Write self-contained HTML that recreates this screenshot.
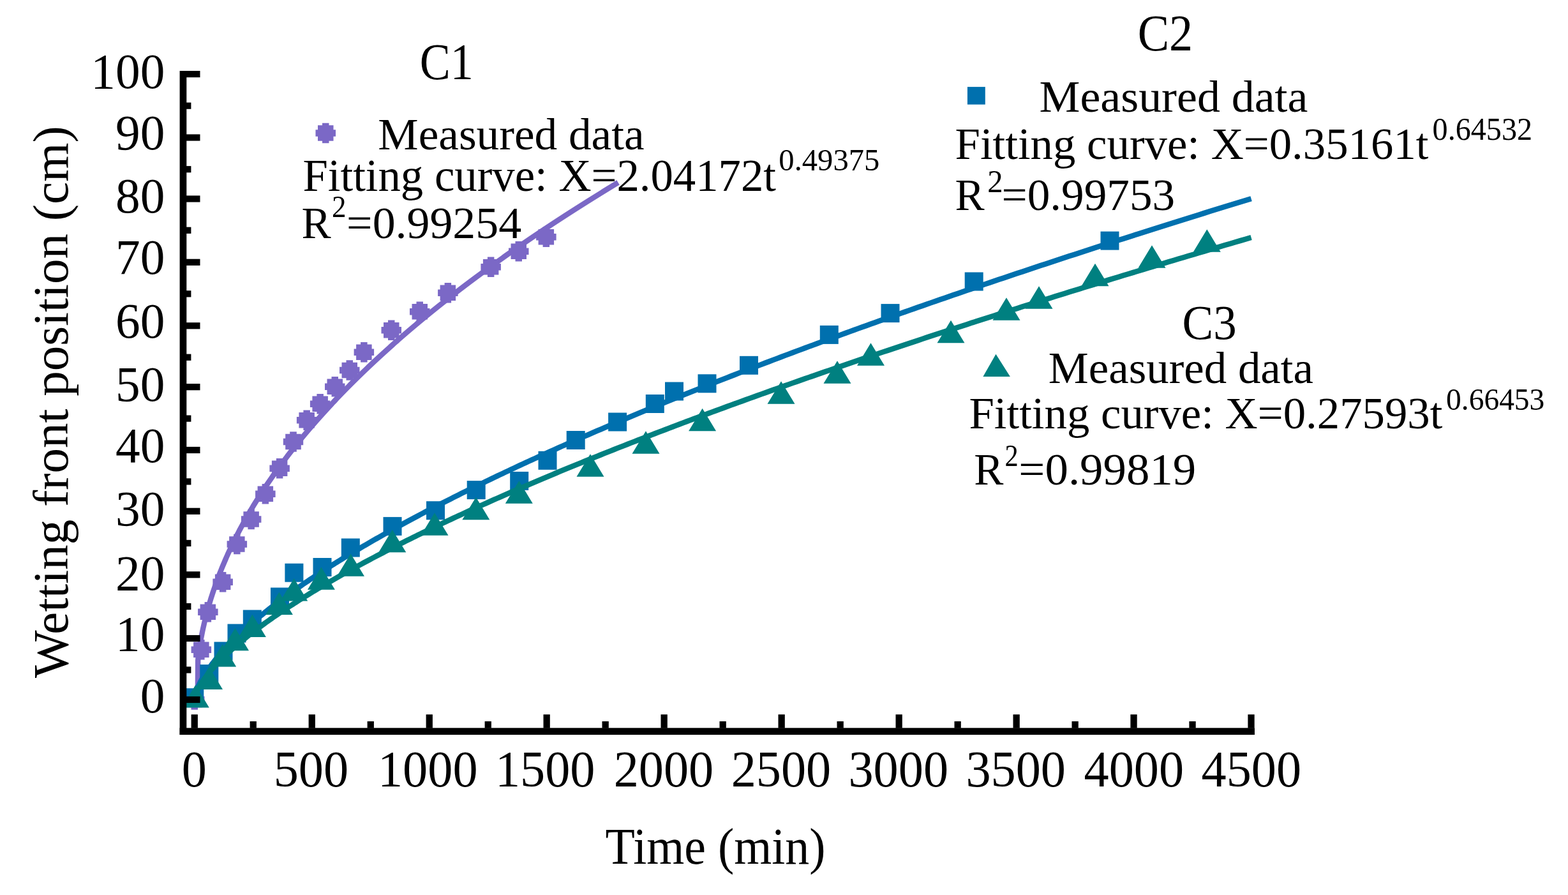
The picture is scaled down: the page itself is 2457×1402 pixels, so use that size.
<!DOCTYPE html>
<html><head><meta charset="utf-8"><title>Wetting front position vs time</title>
<style>html,body{margin:0;padding:0;background:#fff;}svg{display:block;}</style></head>
<body>
<svg width="2457" height="1402" viewBox="0 0 2457 1402"><polyline points="309.80,1094.00 310.20,1035.00 310.76,1027.05 311.32,1022.93 311.92,1018.81 312.55,1014.69 313.21,1010.57 313.90,1006.46 314.63,1002.35 315.39,998.24 316.19,994.13 317.02,990.02 317.88,985.92 318.77,981.82 319.70,977.72 320.66,973.62 321.65,969.53 322.16,967.48 322.68,965.43 323.21,963.39 323.74,961.34 324.28,959.30 324.83,957.25 325.39,955.21 325.96,953.16 326.53,951.12 327.12,949.07 327.71,947.03 328.31,944.99 328.92,942.95 329.53,940.90 330.16,938.86 330.79,936.82 331.44,934.78 332.08,932.74 332.74,930.70 333.41,928.66 334.08,926.62 334.77,924.58 335.46,922.54 336.16,920.50 336.87,918.46 337.58,916.42 338.31,914.38 339.04,912.35 339.78,910.31 340.53,908.27 341.29,906.23 342.05,904.20 342.83,902.16 343.61,900.12 344.40,898.09 345.20,896.05 346.01,894.02 346.82,891.98 347.65,889.95 348.48,887.91 349.32,885.88 350.17,883.84 351.02,881.81 351.89,879.78 352.76,877.74 353.64,875.71 354.53,873.68 355.43,871.64 356.34,869.61 357.25,867.58 358.18,865.55 359.11,863.52 360.05,861.48 361.00,859.45 361.95,857.42 362.92,855.39 363.89,853.36 364.87,851.33 365.86,849.30 366.86,847.27 367.86,845.24 368.88,843.21 369.90,841.18 370.93,839.15 371.97,837.12 373.02,835.09 374.07,833.06 375.14,831.04 376.21,829.01 377.29,826.98 378.38,824.95 379.47,822.92 380.58,820.90 381.69,818.87 382.82,816.84 383.95,814.82 385.08,812.79 386.23,810.76 387.39,808.74 388.55,806.71 389.72,804.68 390.90,802.66 392.09,800.63 393.28,798.61 394.49,796.58 395.70,794.56 396.92,792.53 398.15,790.51 399.39,788.48 400.64,786.46 401.89,784.43 403.15,782.41 404.42,780.39 405.70,778.36 406.99,776.34 408.29,774.32 409.59,772.29 410.90,770.27 412.22,768.25 413.55,766.22 414.89,764.20 416.23,762.18 417.59,760.16 418.95,758.13 420.32,756.11 421.70,754.09 423.08,752.07 424.48,750.05 425.88,748.03 427.29,746.00 428.71,743.98 430.14,741.96 431.58,739.94 433.02,737.92 434.48,735.90 435.94,733.88 437.41,731.86 438.89,729.84 440.37,727.82 441.87,725.80 443.37,723.78 444.88,721.76 446.40,719.74 447.93,717.72 449.46,715.70 451.01,713.68 452.56,711.67 454.12,709.65 455.69,707.63 457.26,705.61 458.85,703.59 460.44,701.57 462.05,699.55 463.66,697.54 465.27,695.52 466.90,693.50 468.54,691.48 470.18,689.47 471.83,687.45 473.49,685.43 475.16,683.42 476.84,681.40 478.52,679.38 480.21,677.36 481.92,675.35 483.63,673.33 485.34,671.32 487.07,669.30 488.80,667.28 490.55,665.27 492.30,663.25 494.06,661.24 495.82,659.22 497.60,657.20 499.38,655.19 501.18,653.17 502.98,651.16 504.79,649.14 506.60,647.13 508.43,645.11 510.26,643.10 512.11,641.09 513.96,639.07 515.81,637.06 517.68,635.04 519.56,633.03 521.44,631.01 523.33,629.00 525.23,626.99 527.14,624.97 529.06,622.96 530.98,620.95 532.92,618.93 534.86,616.92 536.81,614.91 538.76,612.89 540.73,610.88 542.71,608.87 544.69,606.86 546.68,604.84 548.68,602.83 550.69,600.82 552.70,598.81 554.73,596.79 556.76,594.78 558.80,592.77 560.85,590.76 562.91,588.75 564.97,586.73 567.05,584.72 569.13,582.71 571.22,580.70 573.32,578.69 575.42,576.68 577.54,574.67 579.66,572.66 581.80,570.64 583.94,568.63 586.08,566.62 588.24,564.61 590.41,562.60 592.58,560.59 594.76,558.58 596.95,556.57 599.15,554.56 601.35,552.55 603.57,550.54 605.79,548.53 608.02,546.52 610.26,544.51 612.51,542.50 614.77,540.49 617.03,538.48 619.30,536.47 621.58,534.47 623.87,532.46 626.17,530.45 628.48,528.44 630.79,526.43 633.11,524.42 635.44,522.41 637.78,520.40 640.13,518.40 642.48,516.39 644.85,514.38 647.22,512.37 649.60,510.36 651.99,508.35 654.39,506.35 656.79,504.34 659.20,502.33 661.63,500.32 664.06,498.32 666.49,496.31 668.94,494.30 671.40,492.29 673.86,490.29 676.33,488.28 678.81,486.27 681.30,484.27 683.79,482.26 686.30,480.25 688.81,478.24 691.33,476.24 693.86,474.23 696.40,472.23 698.94,470.22 701.50,468.21 704.06,466.21 706.63,464.20 709.21,462.19 711.80,460.19 714.39,458.18 717.00,456.18 719.61,454.17 722.23,452.16 724.86,450.16 727.49,448.15 730.14,446.15 732.79,444.14 735.46,442.14 738.13,440.13 740.80,438.13 743.49,436.12 746.18,434.12 748.89,432.11 751.60,430.11 754.32,428.10 757.05,426.10 759.78,424.09 762.53,422.09 765.28,420.08 768.04,418.08 770.81,416.08 773.59,414.07 776.37,412.07 779.17,410.06 781.97,408.06 784.78,406.06 787.60,404.05 790.43,402.05 793.26,400.04 796.11,398.04 798.96,396.04 801.82,394.03 804.69,392.03 807.57,390.03 810.45,388.02 813.34,386.02 816.25,384.02 819.16,382.01 822.08,380.01 825.00,378.01 827.94,376.01 830.88,374.00 833.83,372.00 836.79,370.00 839.76,367.99 842.74,365.99 845.72,363.99 848.71,361.99 851.71,359.99 854.72,357.98 857.74,355.98 860.77,353.98 863.80,351.98 866.84,349.97 869.90,347.97 872.95,345.97 876.02,343.97 879.10,341.97 882.18,339.97 885.27,337.96 888.37,335.96 891.48,333.96 894.60,331.96 897.73,329.96 900.86,327.96 904.00,325.96 907.15,323.96 910.31,321.95 913.48,319.95 916.65,317.95 919.83,315.95 923.03,313.95 926.23,311.95 929.43,309.95 932.65,307.95 935.88,305.95 939.11,303.95 942.35,301.95 945.60,299.95 948.86,297.95 952.12,295.95 955.40,293.95 958.68,291.95 961.97,289.95 965.27,287.95 968.58,285.95" fill="none" stroke="#7B68C6" stroke-width="8.4" stroke-linejoin="round"/>
<path fill="#7B68C6" d="M299.5,1080.2L310.0,1080.2L310.0,1083.8L317.0,1083.8L317.0,1090.8L320.5,1090.8L320.5,1101.2L317.0,1101.2L317.0,1108.2L310.0,1108.2L310.0,1111.8L299.5,1111.8L299.5,1108.2L292.5,1108.2L292.5,1101.2L289.0,1101.2L289.0,1090.8L292.5,1090.8L292.5,1083.8L299.5,1083.8ZM310.1,1002.0L320.6,1002.0L320.6,1005.5L327.6,1005.5L327.6,1012.5L331.1,1012.5L331.1,1023.0L327.6,1023.0L327.6,1030.0L320.6,1030.0L320.6,1033.5L310.1,1033.5L310.1,1030.0L303.1,1030.0L303.1,1023.0L299.6,1023.0L299.6,1012.5L303.1,1012.5L303.1,1005.5L310.1,1005.5ZM320.6,943.0L331.1,943.0L331.1,946.5L338.1,946.5L338.1,953.5L341.6,953.5L341.6,964.0L338.1,964.0L338.1,971.0L331.1,971.0L331.1,974.5L320.6,974.5L320.6,971.0L313.6,971.0L313.6,964.0L310.1,964.0L310.1,953.5L313.6,953.5L313.6,946.5L320.6,946.5ZM343.9,896.0L354.4,896.0L354.4,899.5L361.4,899.5L361.4,906.5L364.9,906.5L364.9,917.0L361.4,917.0L361.4,924.0L354.4,924.0L354.4,927.5L343.9,927.5L343.9,924.0L336.9,924.0L336.9,917.0L333.4,917.0L333.4,906.5L336.9,906.5L336.9,899.5L343.9,899.5ZM366.1,836.8L376.6,836.8L376.6,840.2L383.6,840.2L383.6,847.2L387.1,847.2L387.1,857.8L383.6,857.8L383.6,864.8L376.6,864.8L376.6,868.2L366.1,868.2L366.1,864.8L359.1,864.8L359.1,857.8L355.6,857.8L355.6,847.2L359.1,847.2L359.1,840.2L366.1,840.2ZM388.4,797.8L398.9,797.8L398.9,801.2L405.9,801.2L405.9,808.2L409.4,808.2L409.4,818.8L405.9,818.8L405.9,825.8L398.9,825.8L398.9,829.2L388.4,829.2L388.4,825.8L381.4,825.8L381.4,818.8L377.9,818.8L377.9,808.2L381.4,808.2L381.4,801.2L388.4,801.2ZM410.6,758.0L421.1,758.0L421.1,761.5L428.1,761.5L428.1,768.5L431.6,768.5L431.6,779.0L428.1,779.0L428.1,786.0L421.1,786.0L421.1,789.5L410.6,789.5L410.6,786.0L403.6,786.0L403.6,779.0L400.1,779.0L400.1,768.5L403.6,768.5L403.6,761.5L410.6,761.5ZM432.9,718.0L443.4,718.0L443.4,721.5L450.4,721.5L450.4,728.5L453.9,728.5L453.9,739.0L450.4,739.0L450.4,746.0L443.4,746.0L443.4,749.5L432.9,749.5L432.9,746.0L425.9,746.0L425.9,739.0L422.4,739.0L422.4,728.5L425.9,728.5L425.9,721.5L432.9,721.5ZM454.2,676.2L464.8,676.2L464.8,679.8L471.8,679.8L471.8,686.8L475.2,686.8L475.2,697.2L471.8,697.2L471.8,704.2L464.8,704.2L464.8,707.8L454.2,707.8L454.2,704.2L447.2,704.2L447.2,697.2L443.8,697.2L443.8,686.8L447.2,686.8L447.2,679.8L454.2,679.8ZM475.4,642.6L485.9,642.6L485.9,646.1L492.9,646.1L492.9,653.1L496.4,653.1L496.4,663.6L492.9,663.6L492.9,670.6L485.9,670.6L485.9,674.1L475.4,674.1L475.4,670.6L468.4,670.6L468.4,663.6L464.9,663.6L464.9,653.1L468.4,653.1L468.4,646.1L475.4,646.1ZM496.4,617.0L506.9,617.0L506.9,620.5L513.9,620.5L513.9,627.5L517.4,627.5L517.4,638.0L513.9,638.0L513.9,645.0L506.9,645.0L506.9,648.5L496.4,648.5L496.4,645.0L489.4,645.0L489.4,638.0L485.9,638.0L485.9,627.5L489.4,627.5L489.4,620.5L496.4,620.5ZM519.5,590.0L530.0,590.0L530.0,593.5L537.0,593.5L537.0,600.5L540.5,600.5L540.5,611.0L537.0,611.0L537.0,618.0L530.0,618.0L530.0,621.5L519.5,621.5L519.5,618.0L512.5,618.0L512.5,611.0L509.0,611.0L509.0,600.5L512.5,600.5L512.5,593.5L519.5,593.5ZM542.5,564.2L553.0,564.2L553.0,567.8L560.0,567.8L560.0,574.8L563.5,574.8L563.5,585.2L560.0,585.2L560.0,592.2L553.0,592.2L553.0,595.8L542.5,595.8L542.5,592.2L535.5,592.2L535.5,585.2L532.0,585.2L532.0,574.8L535.5,574.8L535.5,567.8L542.5,567.8ZM565.1,536.0L575.6,536.0L575.6,539.5L582.6,539.5L582.6,546.5L586.1,546.5L586.1,557.0L582.6,557.0L582.6,564.0L575.6,564.0L575.6,567.5L565.1,567.5L565.1,564.0L558.1,564.0L558.1,557.0L554.6,557.0L554.6,546.5L558.1,546.5L558.1,539.5L565.1,539.5ZM608.0,501.4L618.5,501.4L618.5,504.9L625.5,504.9L625.5,511.9L629.0,511.9L629.0,522.4L625.5,522.4L625.5,529.4L618.5,529.4L618.5,532.9L608.0,532.9L608.0,529.4L601.0,529.4L601.0,522.4L597.5,522.4L597.5,511.9L601.0,511.9L601.0,504.9L608.0,504.9ZM652.5,472.6L663.0,472.6L663.0,476.1L670.0,476.1L670.0,483.1L673.5,483.1L673.5,493.6L670.0,493.6L670.0,500.6L663.0,500.6L663.0,504.1L652.5,504.1L652.5,500.6L645.5,500.6L645.5,493.6L642.0,493.6L642.0,483.1L645.5,483.1L645.5,476.1L652.5,476.1ZM696.6,442.9L707.1,442.9L707.1,446.4L714.1,446.4L714.1,453.4L717.6,453.4L717.6,463.9L714.1,463.9L714.1,470.9L707.1,470.9L707.1,474.4L696.6,474.4L696.6,470.9L689.6,470.9L689.6,463.9L686.1,463.9L686.1,453.4L689.6,453.4L689.6,446.4L696.6,446.4ZM763.9,402.6L774.4,402.6L774.4,406.1L781.4,406.1L781.4,413.1L784.9,413.1L784.9,423.6L781.4,423.6L781.4,430.6L774.4,430.6L774.4,434.1L763.9,434.1L763.9,430.6L756.9,430.6L756.9,423.6L753.4,423.6L753.4,413.1L756.9,413.1L756.9,406.1L763.9,406.1ZM807.5,378.1L818.0,378.1L818.0,381.6L825.0,381.6L825.0,388.6L828.5,388.6L828.5,399.1L825.0,399.1L825.0,406.1L818.0,406.1L818.0,409.6L807.5,409.6L807.5,406.1L800.5,406.1L800.5,399.1L797.0,399.1L797.0,388.6L800.5,388.6L800.5,381.6L807.5,381.6ZM850.6,355.6L861.1,355.6L861.1,359.1L868.1,359.1L868.1,366.1L871.6,366.1L871.6,376.6L868.1,376.6L868.1,383.6L861.1,383.6L861.1,387.1L850.6,387.1L850.6,383.6L843.6,383.6L843.6,376.6L840.1,376.6L840.1,366.1L843.6,366.1L843.6,359.1L850.6,359.1Z"/>
<polyline points="304.75,1096.00 304.76,1095.66 304.79,1095.16 304.84,1094.58 304.92,1093.94 305.01,1093.25 305.12,1092.53 305.26,1091.76 305.41,1090.96 305.59,1090.14 305.78,1089.28 306.00,1088.41 306.24,1087.50 306.50,1086.58 306.78,1085.63 307.08,1084.67 307.40,1083.68 307.74,1082.68 308.10,1081.66 308.49,1080.62 308.89,1079.57 309.31,1078.50 309.76,1077.42 310.22,1076.32 310.71,1075.21 311.22,1074.09 311.75,1072.95 312.29,1071.80 312.86,1070.64 313.45,1069.46 314.06,1068.27 314.70,1067.08 315.35,1065.87 316.02,1064.64 316.71,1063.41 317.43,1062.17 318.16,1060.92 318.92,1059.66 319.69,1058.38 320.49,1057.10 321.31,1055.81 322.15,1054.51 323.01,1053.20 323.89,1051.88 324.79,1050.55 325.71,1049.21 326.65,1047.86 327.61,1046.51 328.59,1045.15 329.60,1043.77 330.62,1042.39 331.67,1041.01 332.73,1039.61 333.82,1038.21 334.93,1036.80 336.06,1035.38 337.20,1033.95 338.37,1032.52 339.56,1031.08 340.77,1029.63 342.01,1028.17 343.26,1026.71 344.53,1025.24 345.82,1023.76 347.14,1022.28 348.47,1020.79 349.83,1019.29 351.21,1017.79 352.60,1016.28 354.02,1014.76 355.46,1013.24 356.92,1011.71 358.40,1010.18 359.90,1008.64 361.42,1007.09 362.96,1005.53 364.53,1003.97 366.11,1002.41 367.71,1000.84 369.34,999.26 370.98,997.68 372.65,996.09 374.34,994.49 376.04,992.89 377.77,991.29 379.52,989.67 381.29,988.06 383.08,986.43 384.89,984.81 386.72,983.17 388.58,981.53 390.45,979.89 392.34,978.24 394.26,976.59 396.19,974.93 398.15,973.26 400.13,971.59 402.12,969.92 404.14,968.24 406.18,966.55 408.24,964.86 410.32,963.16 412.42,961.46 414.54,959.76 416.68,958.05 418.85,956.34 421.03,954.62 423.23,952.89 425.46,951.16 427.70,949.43 429.97,947.69 432.26,945.95 434.57,944.20 436.89,942.45 439.24,940.70 441.61,938.94 444.00,937.17 446.42,935.40 448.85,933.63 451.30,931.85 453.77,930.07 456.27,928.28 458.78,926.49 461.32,924.69 463.87,922.90 466.45,921.09 469.05,919.28 471.67,917.47 474.31,915.65 476.97,913.83 479.65,912.01 482.35,910.18 485.07,908.35 487.81,906.51 490.57,904.67 493.36,902.83 496.16,900.98 498.99,899.12 501.83,897.27 504.70,895.41 507.59,893.54 510.50,891.67 513.42,889.80 516.37,887.93 519.34,886.05 522.34,884.16 525.35,882.27 528.38,880.38 531.43,878.49 534.51,876.59 537.60,874.69 540.71,872.78 543.85,870.87 547.01,868.96 550.18,867.04 553.38,865.12 556.60,863.20 559.84,861.27 563.10,859.34 566.38,857.40 569.68,855.46 573.00,853.52 576.35,851.58 579.71,849.63 583.09,847.67 586.50,845.72 589.92,843.76 593.37,841.80 596.84,839.83 600.32,837.86 603.83,835.89 607.36,833.91 610.91,831.93 614.48,829.95 618.07,827.96 621.68,825.97 625.32,823.98 628.97,821.98 632.64,819.98 636.34,817.98 640.05,815.97 643.79,813.96 647.55,811.95 651.32,809.93 655.12,807.92 658.94,805.89 662.78,803.87 666.64,801.84 670.52,799.81 674.42,797.77 678.34,795.73 682.29,793.69 686.25,791.65 690.24,789.60 694.24,787.55 698.27,785.50 702.31,783.44 706.38,781.38 710.47,779.32 714.58,777.25 718.70,775.18 722.85,773.11 727.03,771.04 731.22,768.96 735.43,766.88 739.66,764.79 743.91,762.71 748.19,760.62 752.48,758.53 756.80,756.43 761.14,754.33 765.49,752.23 769.87,750.13 774.27,748.02 778.69,745.91 783.13,743.80 787.59,741.68 792.07,739.56 796.57,737.44 801.09,735.32 805.64,733.19 810.20,731.06 814.78,728.93 819.39,726.79 824.02,724.65 828.66,722.51 833.33,720.37 838.02,718.22 842.73,716.07 847.46,713.92 852.21,711.77 856.98,709.61 861.77,707.45 866.58,705.29 871.41,703.12 876.27,700.95 881.14,698.78 886.04,696.61 890.95,694.43 895.89,692.25 900.85,690.07 905.82,687.89 910.82,685.70 915.84,683.51 920.88,681.32 925.94,679.12 931.02,676.92 936.12,674.72 941.25,672.52 946.39,670.32 951.55,668.11 956.74,665.90 961.94,663.69 967.17,661.47 972.42,659.25 977.69,657.03 982.97,654.81 988.28,652.58 993.61,650.36 998.96,648.12 1004.33,645.89 1009.73,643.66 1015.14,641.42 1020.57,639.18 1026.03,636.93 1031.50,634.69 1036.99,632.44 1042.51,630.19 1048.05,627.94 1053.60,625.68 1059.18,623.42 1064.78,621.16 1070.40,618.90 1076.04,616.64 1081.70,614.37 1087.38,612.10 1093.09,609.83 1098.81,607.55 1104.55,605.28 1110.32,603.00 1116.10,600.71 1121.91,598.43 1127.73,596.14 1133.58,593.85 1139.45,591.56 1145.34,589.27 1151.25,586.97 1157.18,584.68 1163.13,582.38 1169.10,580.07 1175.09,577.77 1181.10,575.46 1187.14,573.15 1193.19,570.84 1199.27,568.52 1205.36,566.21 1211.48,563.89 1217.61,561.57 1223.77,559.24 1229.95,556.92 1236.15,554.59 1242.37,552.26 1248.61,549.93 1254.87,547.59 1261.15,545.25 1267.45,542.91 1273.78,540.57 1280.12,538.23 1286.49,535.88 1292.87,533.53 1299.28,531.18 1305.70,528.83 1312.15,526.48 1318.62,524.12 1325.11,521.76 1331.62,519.40 1338.15,517.04 1344.70,514.67 1351.27,512.30 1357.86,509.93 1364.47,507.56 1371.11,505.19 1377.76,502.81 1384.44,500.43 1391.13,498.05 1397.85,495.67 1404.59,493.28 1411.34,490.89 1418.12,488.50 1424.92,486.11 1431.74,483.72 1438.58,481.32 1445.44,478.93 1452.33,476.53 1459.23,474.12 1466.15,471.72 1473.10,469.31 1480.06,466.91 1487.05,464.50 1494.05,462.08 1501.08,459.67 1508.13,457.25 1515.20,454.83 1522.28,452.41 1529.39,449.99 1536.52,447.56 1543.68,445.14 1550.85,442.71 1558.04,440.28 1565.25,437.85 1572.49,435.41 1579.74,432.97 1587.02,430.53 1594.31,428.09 1601.63,425.65 1608.97,423.21 1616.33,420.76 1623.70,418.31 1631.10,415.86 1638.52,413.41 1645.96,410.95 1653.43,408.49 1660.91,406.03 1668.41,403.57 1675.93,401.11 1683.48,398.65 1691.04,396.18 1698.63,393.71 1706.24,391.24 1713.86,388.77 1721.51,386.29 1729.18,383.82 1736.87,381.34 1744.58,378.86 1752.31,376.37 1760.06,373.89 1767.83,371.40 1775.63,368.92 1783.44,366.43 1791.27,363.93 1799.13,361.44 1807.00,358.94 1814.90,356.45 1822.82,353.95 1830.75,351.44 1838.71,348.94 1846.69,346.44 1854.69,343.93 1862.71,341.42 1870.75,338.91 1878.81,336.40 1886.90,333.88 1895.00,331.36 1903.12,328.85 1911.27,326.33 1919.43,323.80 1927.62,321.28 1935.83,318.75 1944.05,316.23 1952.30,313.70 1960.57,311.16" fill="none" stroke="#0070AE" stroke-width="8.4" stroke-linejoin="round"/>
<g fill="#0070AE"><rect x="290.3" y="1078.2" width="29" height="29"/><rect x="313.3" y="1041.0" width="29" height="29"/><rect x="335.5" y="1005.5" width="29" height="29"/><rect x="356.5" y="977.5" width="29" height="29"/><rect x="380.8" y="955.5" width="29" height="29"/><rect x="424.0" y="920.5" width="29" height="29"/><rect x="446.4" y="882.7" width="29" height="29"/><rect x="490.5" y="874.0" width="29" height="29"/><rect x="534.8" y="843.5" width="29" height="29"/><rect x="600.5" y="809.9" width="29" height="29"/><rect x="668.0" y="785.2" width="29" height="29"/><rect x="731.7" y="753.1" width="29" height="29"/><rect x="799.2" y="738.9" width="29" height="29"/><rect x="843.5" y="706.8" width="29" height="29"/><rect x="887.7" y="675.0" width="29" height="29"/><rect x="953.1" y="646.5" width="29" height="29"/><rect x="1011.8" y="618.0" width="29" height="29"/><rect x="1042.0" y="598.5" width="29" height="29"/><rect x="1093.5" y="586.3" width="29" height="29"/><rect x="1159.0" y="557.8" width="29" height="29"/><rect x="1284.8" y="509.9" width="29" height="29"/><rect x="1380.5" y="476.1" width="29" height="29"/><rect x="1511.7" y="426.5" width="29" height="29"/><rect x="1724.5" y="362.6" width="29" height="29"/></g>
<polyline points="304.75,1096.00 304.76,1095.75 304.79,1095.37 304.84,1094.91 304.92,1094.41 305.01,1093.86 305.12,1093.27 305.26,1092.65 305.41,1092.00 305.59,1091.33 305.78,1090.62 306.00,1089.90 306.24,1089.15 306.50,1088.38 306.78,1087.59 307.08,1086.78 307.40,1085.96 307.74,1085.12 308.10,1084.26 308.49,1083.38 308.89,1082.49 309.31,1081.59 309.76,1080.67 310.22,1079.74 310.71,1078.79 311.22,1077.83 311.75,1076.86 312.29,1075.87 312.86,1074.88 313.45,1073.87 314.06,1072.85 314.70,1071.82 315.35,1070.77 316.02,1069.72 316.71,1068.66 317.43,1067.58 318.16,1066.50 318.92,1065.41 319.69,1064.30 320.49,1063.19 321.31,1062.07 322.15,1060.93 323.01,1059.79 323.89,1058.64 324.79,1057.48 325.71,1056.32 326.65,1055.14 327.61,1053.95 328.59,1052.76 329.60,1051.56 330.62,1050.35 331.67,1049.13 332.73,1047.91 333.82,1046.68 334.93,1045.43 336.06,1044.19 337.20,1042.93 338.37,1041.67 339.56,1040.40 340.77,1039.12 342.01,1037.83 343.26,1036.54 344.53,1035.24 345.82,1033.94 347.14,1032.62 348.47,1031.30 349.83,1029.98 351.21,1028.65 352.60,1027.31 354.02,1025.96 355.46,1024.61 356.92,1023.25 358.40,1021.88 359.90,1020.51 361.42,1019.14 362.96,1017.75 364.53,1016.36 366.11,1014.97 367.71,1013.57 369.34,1012.16 370.98,1010.74 372.65,1009.33 374.34,1007.90 376.04,1006.47 377.77,1005.03 379.52,1003.59 381.29,1002.14 383.08,1000.69 384.89,999.23 386.72,997.77 388.58,996.30 390.45,994.82 392.34,993.34 394.26,991.86 396.19,990.37 398.15,988.87 400.13,987.37 402.12,985.86 404.14,984.35 406.18,982.83 408.24,981.31 410.32,979.78 412.42,978.25 414.54,976.72 416.68,975.17 418.85,973.63 421.03,972.08 423.23,970.52 425.46,968.96 427.70,967.39 429.97,965.82 432.26,964.25 434.57,962.67 436.89,961.08 439.24,959.49 441.61,957.90 444.00,956.30 446.42,954.70 448.85,953.09 451.30,951.48 453.77,949.86 456.27,948.24 458.78,946.62 461.32,944.99 463.87,943.35 466.45,941.72 469.05,940.07 471.67,938.43 474.31,936.78 476.97,935.12 479.65,933.46 482.35,931.80 485.07,930.13 487.81,928.46 490.57,926.78 493.36,925.10 496.16,923.42 498.99,921.73 501.83,920.03 504.70,918.34 507.59,916.64 510.50,914.93 513.42,913.22 516.37,911.51 519.34,909.79 522.34,908.07 525.35,906.35 528.38,904.62 531.43,902.89 534.51,901.15 537.60,899.41 540.71,897.67 543.85,895.92 547.01,894.17 550.18,892.41 553.38,890.66 556.60,888.89 559.84,887.13 563.10,885.36 566.38,883.58 569.68,881.81 573.00,880.02 576.35,878.24 579.71,876.45 583.09,874.66 586.50,872.86 589.92,871.06 593.37,869.26 596.84,867.46 600.32,865.65 603.83,863.83 607.36,862.02 610.91,860.20 614.48,858.37 618.07,856.54 621.68,854.71 625.32,852.88 628.97,851.04 632.64,849.20 636.34,847.36 640.05,845.51 643.79,843.66 647.55,841.80 651.32,839.94 655.12,838.08 658.94,836.22 662.78,834.35 666.64,832.48 670.52,830.61 674.42,828.73 678.34,826.85 682.29,824.96 686.25,823.07 690.24,821.18 694.24,819.29 698.27,817.39 702.31,815.49 706.38,813.59 710.47,811.68 714.58,809.77 718.70,807.86 722.85,805.94 727.03,804.02 731.22,802.10 735.43,800.17 739.66,798.24 743.91,796.31 748.19,794.38 752.48,792.44 756.80,790.50 761.14,788.55 765.49,786.61 769.87,784.66 774.27,782.70 778.69,780.75 783.13,778.79 787.59,776.82 792.07,774.86 796.57,772.89 801.09,770.92 805.64,768.95 810.20,766.97 814.78,764.99 819.39,763.00 824.02,761.02 828.66,759.03 833.33,757.04 838.02,755.04 842.73,753.04 847.46,751.04 852.21,749.04 856.98,747.03 861.77,745.03 866.58,743.01 871.41,741.00 876.27,738.98 881.14,736.96 886.04,734.94 890.95,732.91 895.89,730.88 900.85,728.85 905.82,726.82 910.82,724.78 915.84,722.74 920.88,720.69 925.94,718.65 931.02,716.60 936.12,714.55 941.25,712.50 946.39,710.44 951.55,708.38 956.74,706.32 961.94,704.25 967.17,702.19 972.42,700.12 977.69,698.04 982.97,695.97 988.28,693.89 993.61,691.81 998.96,689.72 1004.33,687.64 1009.73,685.55 1015.14,683.46 1020.57,681.36 1026.03,679.27 1031.50,677.17 1036.99,675.07 1042.51,672.96 1048.05,670.85 1053.60,668.75 1059.18,666.63 1064.78,664.52 1070.40,662.40 1076.04,660.28 1081.70,658.16 1087.38,656.03 1093.09,653.91 1098.81,651.78 1104.55,649.64 1110.32,647.51 1116.10,645.37 1121.91,643.23 1127.73,641.09 1133.58,638.94 1139.45,636.79 1145.34,634.64 1151.25,632.49 1157.18,630.34 1163.13,628.18 1169.10,626.02 1175.09,623.86 1181.10,621.69 1187.14,619.52 1193.19,617.35 1199.27,615.18 1205.36,613.01 1211.48,610.83 1217.61,608.65 1223.77,606.47 1229.95,604.28 1236.15,602.10 1242.37,599.91 1248.61,597.71 1254.87,595.52 1261.15,593.32 1267.45,591.12 1273.78,588.92 1280.12,586.72 1286.49,584.51 1292.87,582.31 1299.28,580.10 1305.70,577.88 1312.15,575.67 1318.62,573.45 1325.11,571.23 1331.62,569.01 1338.15,566.78 1344.70,564.56 1351.27,562.33 1357.86,560.09 1364.47,557.86 1371.11,555.62 1377.76,553.39 1384.44,551.14 1391.13,548.90 1397.85,546.66 1404.59,544.41 1411.34,542.16 1418.12,539.91 1424.92,537.65 1431.74,535.40 1438.58,533.14 1445.44,530.88 1452.33,528.61 1459.23,526.35 1466.15,524.08 1473.10,521.81 1480.06,519.54 1487.05,517.26 1494.05,514.98 1501.08,512.71 1508.13,510.42 1515.20,508.14 1522.28,505.86 1529.39,503.57 1536.52,501.28 1543.68,498.99 1550.85,496.69 1558.04,494.39 1565.25,492.10 1572.49,489.79 1579.74,487.49 1587.02,485.19 1594.31,482.88 1601.63,480.57 1608.97,478.26 1616.33,475.94 1623.70,473.63 1631.10,471.31 1638.52,468.99 1645.96,466.67 1653.43,464.34 1660.91,462.02 1668.41,459.69 1675.93,457.36 1683.48,455.02 1691.04,452.69 1698.63,450.35 1706.24,448.01 1713.86,445.67 1721.51,443.33 1729.18,440.98 1736.87,438.64 1744.58,436.29 1752.31,433.93 1760.06,431.58 1767.83,429.22 1775.63,426.87 1783.44,424.51 1791.27,422.14 1799.13,419.78 1807.00,417.41 1814.90,415.05 1822.82,412.68 1830.75,410.30 1838.71,407.93 1846.69,405.55 1854.69,403.17 1862.71,400.79 1870.75,398.41 1878.81,396.03 1886.90,393.64 1895.00,391.25 1903.12,388.86 1911.27,386.47 1919.43,384.08 1927.62,381.68 1935.83,379.28 1944.05,376.88 1952.30,374.48 1960.57,372.07" fill="none" stroke="#008080" stroke-width="8.4" stroke-linejoin="round"/>
<path fill="#008080" d="M306.3,1073.0L327.8,1108.5L284.8,1108.5ZM327.5,1044.5L349.0,1080.0L306.0,1080.0ZM348.7,1009.0L370.2,1044.5L327.2,1044.5ZM368.5,983.8L390.0,1019.2L347.0,1019.2ZM395.4,962.5L416.9,998.0L373.9,998.0ZM437.4,927.5L458.9,963.0L415.9,963.0ZM460.7,906.0L482.2,941.5L439.2,941.5ZM503.4,888.2L524.9,923.8L481.9,923.8ZM549.5,867.2L571.0,902.8L528.0,902.8ZM614.8,829.8L636.3,865.2L593.3,865.2ZM681.0,803.2L702.5,838.8L659.5,838.8ZM745.8,778.8L767.3,814.2L724.3,814.2ZM813.3,753.2L834.8,788.8L791.8,788.8ZM925.0,711.2L946.5,746.8L903.5,746.8ZM1012.0,675.2L1033.5,710.8L990.5,710.8ZM1100.6,639.8L1122.1,675.2L1079.1,675.2ZM1224.0,597.2L1245.5,632.8L1202.5,632.8ZM1312.0,565.2L1333.5,600.8L1290.5,600.8ZM1364.5,537.2L1386.0,572.8L1343.0,572.8ZM1490.0,501.8L1511.5,537.2L1468.5,537.2ZM1577.0,466.2L1598.5,501.8L1555.5,501.8ZM1628.0,448.2L1649.5,483.8L1606.5,483.8ZM1716.0,412.8L1737.5,448.2L1694.5,448.2ZM1805.0,384.2L1826.5,419.8L1783.5,419.8ZM1891.3,359.2L1912.8,394.8L1869.8,394.8Z"/>
<rect x="281.6" y="111" width="10.7" height="1040" fill="#000"/>
<rect x="281.6" y="1140.3" width="1684.4" height="10.7" fill="#000"/>
<rect x="291.8" y="1090.9" width="21.7" height="10.2" fill="#000"/>
<rect x="291.8" y="994.9" width="21.7" height="10.2" fill="#000"/>
<rect x="291.8" y="895.2" width="21.7" height="10.2" fill="#000"/>
<rect x="291.8" y="795.7" width="21.7" height="10.2" fill="#000"/>
<rect x="291.8" y="699.9" width="21.7" height="10.2" fill="#000"/>
<rect x="291.8" y="601.1" width="21.7" height="10.2" fill="#000"/>
<rect x="291.8" y="505.2" width="21.7" height="10.2" fill="#000"/>
<rect x="291.8" y="405.7" width="21.7" height="10.2" fill="#000"/>
<rect x="291.8" y="306.4" width="21.7" height="10.2" fill="#000"/>
<rect x="291.8" y="210.4" width="21.7" height="10.2" fill="#000"/>
<rect x="291.8" y="111.0" width="21.7" height="10.2" fill="#000"/>
<rect x="291.8" y="1044.3" width="7.6" height="10.2" fill="#000"/>
<rect x="291.8" y="944.9" width="7.6" height="10.2" fill="#000"/>
<rect x="291.8" y="845.8" width="7.6" height="10.2" fill="#000"/>
<rect x="291.8" y="749.3" width="7.6" height="10.2" fill="#000"/>
<rect x="291.8" y="650.5" width="7.6" height="10.2" fill="#000"/>
<rect x="291.8" y="554.6" width="7.6" height="10.2" fill="#000"/>
<rect x="291.8" y="455.2" width="7.6" height="10.2" fill="#000"/>
<rect x="291.8" y="355.7" width="7.6" height="10.2" fill="#000"/>
<rect x="291.8" y="260.1" width="7.6" height="10.2" fill="#000"/>
<rect x="291.8" y="160.6" width="7.6" height="10.2" fill="#000"/>
<rect x="299.6" y="1119.2" width="10.3" height="21.5" fill="#000"/>
<rect x="483.6" y="1119.2" width="10.3" height="21.5" fill="#000"/>
<rect x="667.6" y="1119.2" width="10.3" height="21.5" fill="#000"/>
<rect x="851.5" y="1119.2" width="10.3" height="21.5" fill="#000"/>
<rect x="1035.5" y="1119.2" width="10.3" height="21.5" fill="#000"/>
<rect x="1219.5" y="1119.2" width="10.3" height="21.5" fill="#000"/>
<rect x="1403.5" y="1119.2" width="10.3" height="21.5" fill="#000"/>
<rect x="1587.5" y="1119.2" width="10.3" height="21.5" fill="#000"/>
<rect x="1771.4" y="1119.2" width="10.3" height="21.5" fill="#000"/>
<rect x="1955.4" y="1119.2" width="10.3" height="21.5" fill="#000"/>
<rect x="391.6" y="1129.9" width="10.3" height="10.8" fill="#000"/>
<rect x="575.6" y="1129.9" width="10.3" height="10.8" fill="#000"/>
<rect x="759.6" y="1129.9" width="10.3" height="10.8" fill="#000"/>
<rect x="943.5" y="1129.9" width="10.3" height="10.8" fill="#000"/>
<rect x="1127.5" y="1129.9" width="10.3" height="10.8" fill="#000"/>
<rect x="1311.5" y="1129.9" width="10.3" height="10.8" fill="#000"/>
<rect x="1495.5" y="1129.9" width="10.3" height="10.8" fill="#000"/>
<rect x="1679.5" y="1129.9" width="10.3" height="10.8" fill="#000"/>
<rect x="1863.4" y="1129.9" width="10.3" height="10.8" fill="#000"/>
<path fill="#7B68C6" d="M505.0,192.7L515.5,192.7L515.5,196.2L522.5,196.2L522.5,203.2L526.0,203.2L526.0,213.7L522.5,213.7L522.5,220.7L515.5,220.7L515.5,224.2L505.0,224.2L505.0,220.7L498.0,220.7L498.0,213.7L494.5,213.7L494.5,203.2L498.0,203.2L498.0,196.2L505.0,196.2Z"/>
<rect x="1515.9" y="136.1" width="27.9" height="27.6" fill="#0070AE"/>
<path fill="#008080" d="M1560.5,554.7L1582.9,589.9L1540.4,589.9Z"/>
<g font-family="Liberation Serif, Times New Roman, serif">
<text transform="translate(142.31,138.00) scale(0.9850,1)" font-size="78.50">100</text>
<text transform="translate(180.97,234.00) scale(0.9850,1)" font-size="78.50">90</text>
<text transform="translate(180.97,332.80) scale(0.9850,1)" font-size="78.50">80</text>
<text transform="translate(180.97,429.20) scale(0.9850,1)" font-size="78.50">70</text>
<text transform="translate(180.97,528.60) scale(0.9850,1)" font-size="78.50">60</text>
<text transform="translate(180.97,627.50) scale(0.9850,1)" font-size="78.50">50</text>
<text transform="translate(180.97,724.00) scale(0.9850,1)" font-size="78.50">40</text>
<text transform="translate(180.97,823.40) scale(0.9850,1)" font-size="78.50">30</text>
<text transform="translate(180.97,923.60) scale(0.9850,1)" font-size="78.50">20</text>
<text transform="translate(180.97,1018.80) scale(0.9850,1)" font-size="78.50">10</text>
<text transform="translate(219.63,1116.20) scale(0.9850,1)" font-size="78.50">0</text>
<text transform="translate(284.68,1231.50) scale(0.9750,1)" font-size="80.30">0</text>
<text transform="translate(428.73,1231.50) scale(0.9750,1)" font-size="80.30">500</text>
<text transform="translate(591.96,1231.50) scale(0.9750,1)" font-size="80.30">1000</text>
<text transform="translate(775.94,1231.50) scale(0.9750,1)" font-size="80.30">1500</text>
<text transform="translate(961.68,1231.50) scale(0.9750,1)" font-size="80.30">2000</text>
<text transform="translate(1145.66,1231.50) scale(0.9750,1)" font-size="80.30">2500</text>
<text transform="translate(1329.45,1231.50) scale(0.9750,1)" font-size="80.30">3000</text>
<text transform="translate(1513.43,1231.50) scale(0.9750,1)" font-size="80.30">3500</text>
<text transform="translate(1698.58,1231.50) scale(0.9750,1)" font-size="80.30">4000</text>
<text transform="translate(1882.56,1231.50) scale(0.9750,1)" font-size="80.30">4500</text>
<text transform="translate(106.4,1061.9) rotate(-90)" font-size="79">Wetting front position (cm)</text>
<text transform="translate(948.58,1353.30) scale(0.9379,1)" font-size="80.90" fill="#000">Time (min)</text>
<text transform="translate(657.82,124.20) scale(0.9002,1)" font-size="80.00" fill="#000">C1</text>
<text transform="translate(1782.64,78.50) scale(0.9264,1)" font-size="80.00" fill="#000">C2</text>
<text transform="translate(1852.48,531.20) scale(0.9605,1)" font-size="76.00" fill="#000">C3</text>
<text transform="translate(592.36,234.40) scale(1.0323,1)" font-size="69.00" fill="#000">Measured data</text>
<text transform="translate(1628.54,174.90) scale(1.0264,1)" font-size="70.00" fill="#000">Measured data</text>
<text transform="translate(1642.87,600.00) scale(1.0268,1)" font-size="69.00" fill="#000">Measured data</text>
<text transform="translate(474.48,299.30) scale(0.9940,1)" font-size="71.20" fill="#000">Fitting curve: X=2.04172t</text>
<text transform="translate(1220.36,267.40) scale(1.0127,1)" font-size="48.00" fill="#000">0.49375</text>
<text transform="translate(1496.58,248.80) scale(1.0262,1)" font-size="69.00" fill="#000">Fitting curve: X=0.35161t</text>
<text transform="translate(2244.57,219.20) scale(0.9447,1)" font-size="51.00" fill="#000">0.64532</text>
<text transform="translate(1518.48,670.80) scale(1.0115,1)" font-size="70.00" fill="#000">Fitting curve: X=0.27593t</text>
<text transform="translate(2266.10,642.40) scale(0.9630,1)" font-size="49.30" fill="#000">0.66453</text>
<text transform="translate(472.62,373.00) scale(1.0000,1)" font-size="69.20">R</text>
<text transform="translate(519.98,339.80) scale(0.9375,1)" font-size="48.00" fill="#000">2</text>
<text transform="translate(543.11,373.00) scale(1.0385,1)" font-size="69.20" fill="#000">=0.99254</text>
<text transform="translate(1496.62,329.10) scale(1.0000,1)" font-size="69.20">R</text>
<text transform="translate(1547.31,301.20) scale(0.9653,1)" font-size="50.50" fill="#000">2</text>
<text transform="translate(1569.44,329.10) scale(1.0300,1)" font-size="69.20" fill="#000">=0.99753</text>
<text transform="translate(1526.22,758.80) scale(1.0000,1)" font-size="69.20">R</text>
<text transform="translate(1574.59,730.10) scale(0.8673,1)" font-size="49.00" fill="#000">2</text>
<text transform="translate(1596.36,758.80) scale(1.0533,1)" font-size="69.20" fill="#000">=0.99819</text>
</g></svg>
</body></html>
